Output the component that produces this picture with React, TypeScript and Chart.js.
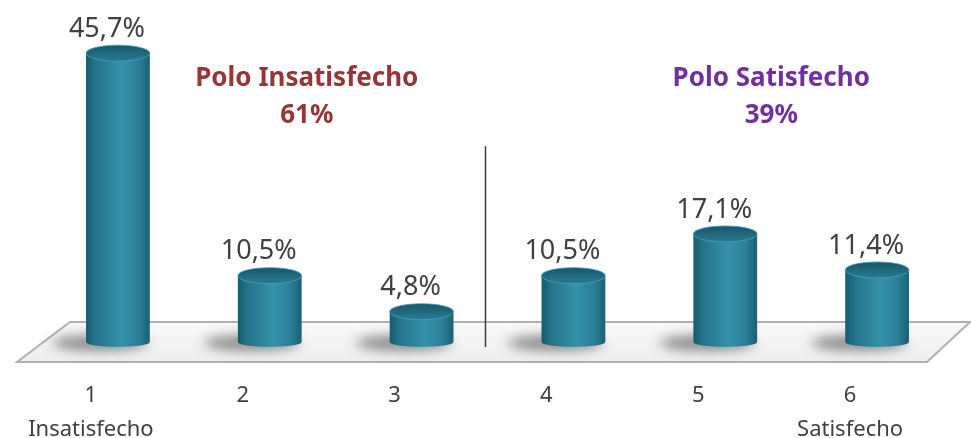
import React, { useEffect, useRef } from 'react';
import { Chart, registerables } from 'chart.js';
Chart.register(...registerables);

const categories: (string | string[])[] = [['1', 'Insatisfecho'], '2', '3', '4', '5', ['6', 'Satisfecho']];
const values = [45.7, 10.5, 4.8, 10.5, 17.1, 11.4];
const poleTitles = ['Polo Insatisfecho', 'Polo Satisfecho'];
const poleShares = ['61%', '39%'];
const poleColors = ['#953735', '#7030a0'];
const poleAnchorIndex = [1, 4];
const separatorValue = 31;

const fmt = (v: number) => v.toFixed(1).replace('.', ',') + '%';

const cylPlugin = {
  id: 'cyl',
  beforeDatasetsDraw(chart: any) {
    const { ctx, chartArea } = chart;
    const { left, right, bottom } = chartArea;
    const xs = chart.scales.x;
    const ys = chart.scales.y;
    ctx.save();
    // floor
    ctx.beginPath();
    ctx.moveTo(left - 25, bottom + 20);
    ctx.lineTo(right - 26, bottom + 20);
    ctx.lineTo(right + 17, bottom - 20);
    ctx.lineTo(left + 28, bottom - 20);
    ctx.closePath();
    const g = ctx.createLinearGradient(0, bottom - 20, 0, bottom + 20);
    g.addColorStop(0, '#f8f8f8');
    g.addColorStop(1, '#eeeeee');
    ctx.fillStyle = g;
    ctx.fill();
    ctx.strokeStyle = '#b0b0b0';
    ctx.lineWidth = 2;
    ctx.stroke();
    // shadows
    const meta = chart.getDatasetMeta(0);
    meta.data.forEach((bar: any) => {
      ctx.save();
      ctx.filter = 'blur(6px)';
      ctx.fillStyle = 'rgba(60,60,60,0.55)';
      ctx.beginPath();
      ctx.ellipse(bar.x - 18, bar.base + 1, bar.width * 0.75, 8, 0, 0, Math.PI * 2);
      ctx.fill();
      ctx.restore();
    });
    // separator
    const sx = (xs.getPixelForValue(2) + xs.getPixelForValue(3)) / 2 - 12;
    ctx.beginPath();
    ctx.moveTo(sx, ys.getPixelForValue(separatorValue));
    ctx.lineTo(sx, bottom + 5);
    ctx.strokeStyle = '#3c3c3c';
    ctx.lineWidth = 1.5;
    ctx.stroke();
    ctx.restore();
  },
  afterDatasetsDraw(chart: any) {
    const { ctx } = chart;
    const meta = chart.getDatasetMeta(0);
    ctx.save();
    meta.data.forEach((bar: any, i: number) => {
      const cx = bar.x;
      const rx = bar.width / 2;
      const yTop = bar.y;
      const yBase = bar.base;
      const ryT = 8;
      const ryB = 5;
      const lx = cx - rx;
      const rxp = cx + rx;
      // body
      const bg = ctx.createLinearGradient(lx, 0, rxp, 0);
      bg.addColorStop(0, '#185b6e');
      bg.addColorStop(0.15, '#237389');
      bg.addColorStop(0.55, '#3592ab');
      bg.addColorStop(0.82, '#2a7f97');
      bg.addColorStop(1, '#1b6074');
      ctx.beginPath();
      ctx.moveTo(lx, yTop);
      ctx.lineTo(lx, yBase);
      ctx.ellipse(cx, yBase, rx, ryB, 0, Math.PI, 0, true);
      ctx.lineTo(rxp, yTop);
      ctx.closePath();
      ctx.fillStyle = bg;
      ctx.fill();
      // cap
      const cg = ctx.createLinearGradient(0, yTop - ryT, 0, yTop + ryT);
      cg.addColorStop(0, '#18566a');
      cg.addColorStop(1, '#297a91');
      ctx.beginPath();
      ctx.ellipse(cx, yTop, rx, ryT, 0, 0, Math.PI * 2);
      ctx.fillStyle = cg;
      ctx.fill();
      ctx.strokeStyle = 'rgba(70,160,185,0.8)';
      ctx.lineWidth = 1;
      ctx.stroke();
      // label
      ctx.font = '27px "Noto Sans"';
      ctx.fillStyle = '#404040';
      ctx.textAlign = 'center';
      ctx.textBaseline = 'middle';
      ctx.fillText(fmt(values[i]), cx - 11, yTop - ryT - 16);
    });
    ctx.restore();
  },
  afterDraw(chart: any) {
    const { ctx } = chart;
    const xs = chart.scales.x;
    const offsets = [37, 46];
    ctx.save();
    ctx.textAlign = 'center';
    ctx.textBaseline = 'middle';
    ctx.font = 'bold 26px "Noto Sans"';
    poleTitles.forEach((t, k) => {
      const x = xs.getPixelForValue(poleAnchorIndex[k]) + offsets[k];
      ctx.fillStyle = poleColors[k];
      ctx.fillText(t, x, 79);
      ctx.fillText(poleShares[k], x, 116);
    });
    ctx.restore();
  },
};

export default function App() {
  const ref = useRef<HTMLCanvasElement>(null);
  useEffect(() => {
    if (!ref.current) return;
    const chart = new Chart(ref.current, {
      type: 'bar',
      data: {
        labels: categories,
        datasets: [
          {
            data: values,
            backgroundColor: 'rgba(0,0,0,0)',
            borderWidth: 0,
            categoryPercentage: 1,
            barPercentage: 0.42,
          },
        ],
      },
      options: {
        responsive: false,
        animation: false,
        layout: { padding: { left: 42, right: 18, top: 26, bottom: 0 } },
        plugins: { legend: { display: false }, tooltip: { enabled: false } },
        scales: {
          y: { display: false, min: 0, max: 50 },
          x: {
            grid: { display: false, drawTicks: false },
            border: { display: false },
            ticks: {
              font: { family: '"Noto Sans"', size: 22, lineHeight: 1.58 },
              color: '#404040',
              padding: 36,
              labelOffset: -27,
              maxRotation: 0,
              autoSkip: false,
            },
            afterFit: (scale: any) => {
              scale.height = 96;
            },
          },
        },
      },
      plugins: [cylPlugin],
    });
    return () => chart.destroy();
  }, []);
  return (
    <div style={{ position: 'absolute', left: 0, top: 0, width: 971, height: 438, background: '#fff' }}>
      <canvas ref={ref} width={971} height={438} style={{ display: 'block' }} />
    </div>
  );
}
